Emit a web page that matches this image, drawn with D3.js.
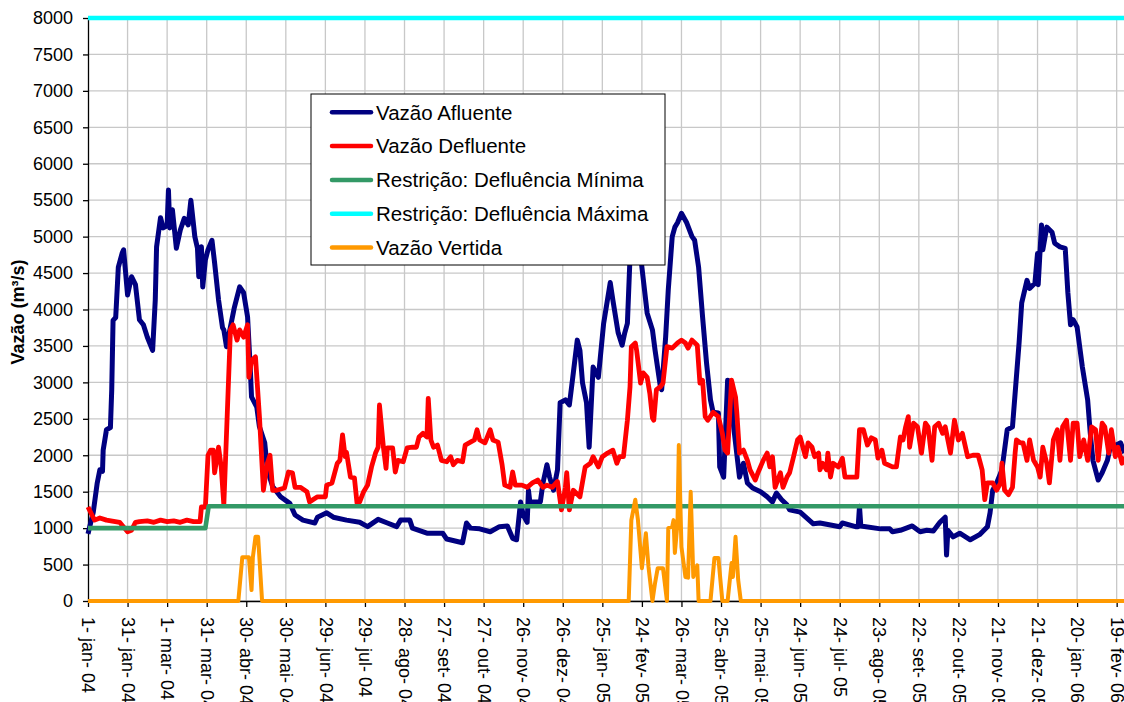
<!DOCTYPE html>
<html><head><meta charset="utf-8">
<script src="https://cdn.jsdelivr.net/npm/d3@7"></script>
<style>
body{margin:0;background:#fff;}
svg{display:block;font-family:Arial,"Liberation Sans",sans-serif;}
</style>
</head><body>
<svg id="chart" width="1124" height="702"></svg>
<script>
// ---------- DATA (day offset from 1-jan-2004, value in m3/s) ----------
const startDate = Date.UTC(2004, 0, 1);
const lastDay = 786;
const tickLabels = ["1- jan- 04","31- jan- 04","1- mar- 04","31- mar- 04","30- abr- 04","30- mai- 04","29- jun- 04","29- jul- 04","28- ago- 04","27- set- 04","27- out- 04","26- nov- 04","26- dez- 04","25- jan- 05","24- fev- 05","26- mar- 05","25- abr- 05","25- mai- 05","24- jun- 05","24- jul- 05","23- ago- 05","22- set- 05","22- out- 05","21- nov- 05","21- dez- 05","20- jan- 06","19- fev- 06"];
const tickDays = [0,30,60,90,120,150,180,210,240,270,300,330,360,390,420,450,480,510,540,570,600,630,660,690,720,750,780];
const yTicks = [0,500,1000,1500,2000,2500,3000,3500,4000,4500,5000,5500,6000,6500,7000,7500,8000];

const vazaoAfluente = [[0,920],[4,1220],[7,1620],[9,1800],[11,1780],[11.5,2070],[14,2350],[17,2380],[18,2900],[19,3850],[21,3890],[23,4580],[26,4780],[27,4820],[30,4200],[33,4450],[36,4340],[39,3860],[42,3790],[45,3620],[49,3440],[51,4130],[52,4860],[55,5260],[57,5120],[60,5150],[61,5640],[62,5120],[64,5370],[67,4840],[70,5090],[73,5250],[76,5160],[78,5500],[81,5000],[83,4840],[84,4450],[86,4860],[87,4310],[89,4680],[91,4820],[94,4950],[96,4640],[99,4130],[102,3750],[103,3720],[105,3490],[108,3760],[111,4030],[115,4310],[118,4230],[121,3900],[123,3210],[124,2800],[128,2660],[130,2390],[134,2170],[136,1800],[140,1570],[146,1430],[153,1340],[157,1180],[163,1110],[172,1070],[174,1150],[181,1210],[186,1150],[196,1110],[206,1080],[212,1020],[220,1120],[227,1070],[234,1020],[237,1110],[244,1110],[246,1000],[257,930],[269,930],[272,850],[284,800],[287,1070],[290,1000],[297,990],[305,950],[312,1020],[318,1030],[322,860],[325,840],[328,1360],[330,1180],[333,1080],[334,1520],[335,1360],[343,1360],[345,1620],[348,1870],[350,1700],[353,1520],[356,1800],[358,2720],[362,2760],[365,2690],[368,3130],[371,3580],[373,3440],[375,2990],[378,2720],[380,2110],[383,3210],[387,3070],[391,3810],[396,4370],[398,4130],[402,3680],[405,3510],[407,3680],[409,3810],[411,4720],[414,5400],[417,5100],[420,4580],[424,3950],[428,3720],[430,3440],[434,2940],[435,2900],[438,3620],[440,4270],[443,5000],[445,5130],[447,5190],[450,5320],[454,5190],[458,5000],[460,4950],[463,4580],[466,3900],[469,3270],[472,2760],[474,2590],[478,2580],[479,1840],[482,1700],[485,3030],[488,3000],[489,2480],[494,1700],[497,1890],[500,1620],[504,1550],[510,1500],[515,1430],[519,1360],[522,1480],[526,1390],[530,1320],[532,1250],[540,1220],[550,1060],[555,1070],[570,1020],[572,1070],[582,1020],[584,1020],[585,1300],[586,1030],[601,990],[608,990],[610,950],[616,970],[625,1030],[631,950],[636,970],[641,960],[646,1080],[650,1150],[651,630],[652,970],[656,880],[661,930],[669,840],[676,910],[682,1020],[684,1210],[686,1520],[689,1620],[693,1800],[697,2350],[701,2390],[706,3540],[708,4090],[712,4400],[714,4290],[718,4360],[720,4770],[720.5,4340],[723,5160],[724,4820],[727,5130],[731,5060],[733,4910],[737,4860],[741,4840],[743,4230],[745,3790],[747,3860],[750,3760],[754,3210],[758,2760],[760,2300],[762,1930],[766,1660],[769,1760],[773,1930],[775,2100],[783,2170],[786,2030]];

const vazaoDefluente = [[0,1290],[3,1180],[5,1110],[9,1140],[14,1110],[24,1080],[30,950],[33,970],[36,1080],[39,1090],[45,1100],[50,1080],[55,1110],[60,1090],[65,1100],[70,1080],[75,1110],[80,1090],[85,1090],[86,1290],[89,1290],[91,2000],[93,2070],[95,2070],[96,1760],[99,2110],[101,1840],[103,1320],[108,3720],[110,3790],[113,3580],[115,3720],[118,3620],[121,3790],[122,3070],[124,3300],[127,3350],[130,2530],[133,1520],[136,1890],[138,2000],[140,1520],[143,1520],[149,1550],[152,1770],[155,1760],[157,1560],[161,1560],[166,1500],[168,1360],[174,1430],[180,1430],[181,1590],[185,1620],[189,1890],[191,1930],[193,2280],[195,1980],[196,2040],[199,1700],[202,1690],[204,1340],[206,1360],[209,1500],[212,1590],[215,1840],[218,2030],[220,2110],[221,2690],[224,2110],[226,1820],[227,2100],[231,2100],[233,1770],[235,1930],[239,1910],[242,2100],[246,2110],[249,2110],[251,2250],[254,2300],[257,2250],[258,2780],[260,2210],[262,2110],[265,2140],[268,1930],[272,1910],[275,1980],[277,1870],[280,1930],[284,1910],[286,2140],[290,2180],[293,2210],[295,2350],[297,2210],[301,2170],[305,2350],[307,2210],[311,2180],[314,1870],[316,1590],[320,1560],[322,1770],[324,1590],[329,1590],[333,1560],[337,1620],[341,1660],[345,1560],[348,1590],[352,1560],[356,1640],[359,1250],[362,1560],[363,1760],[365,1250],[368,1520],[373,1430],[377,1840],[381,1890],[383,1980],[387,1840],[390,1980],[394,2030],[398,2070],[401,1890],[403,1980],[406,1980],[409,2480],[411,2940],[412,3490],[415,3540],[416,3440],[419,2990],[421,3130],[424,3070],[426,2850],[428,2510],[429,2480],[431,2900],[434,2940],[436,2990],[439,3490],[443,3470],[447,3540],[450,3580],[453,3540],[455,3470],[458,3580],[462,3510],[464,2990],[466,3030],[468,2530],[470,2480],[474,2590],[478,2530],[481,2300],[483,2070],[485,2030],[488,3030],[491,2800],[492,2580],[494,2030],[497,2070],[500,1930],[502,1800],[506,1660],[508,1760],[512,1930],[515,2030],[517,1840],[519,1980],[521,1560],[525,1760],[527,1560],[530,1700],[532,1760],[535,1980],[538,2210],[540,2250],[544,1980],[546,2170],[549,2110],[551,1980],[554,2030],[555,1800],[557,1890],[560,1800],[561,2030],[563,1700],[565,1890],[569,1840],[572,1960],[574,1700],[583,1700],[585,2350],[588,2350],[591,2140],[594,2240],[597,2210],[599,1960],[602,2070],[604,1890],[610,1840],[613,1840],[616,2250],[618,2210],[620,2390],[622,2530],[623,2110],[626,2440],[629,2390],[632,2030],[635,2440],[637,2390],[640,1930],[642,2390],[645,2440],[648,2300],[650,2390],[654,2030],[657,2480],[660,2210],[663,2300],[667,1980],[671,2000],[675,2000],[678,1800],[680,1390],[682,1620],[686,1620],[689,1520],[692,1620],[693,1890],[695,1520],[698,1460],[701,1560],[703,2030],[704,2210],[707,2170],[709,2170],[712,1930],[714,2210],[717,1930],[720,1840],[722,1700],[724,2110],[727,1890],[729,1620],[732,2210],[735,2350],[737,1930],[739,2390],[742,2480],[745,1930],[747,2440],[750,2440],[752,1980],[755,2210],[758,1930],[761,2390],[764,2350],[766,1930],[769,2440],[771,2390],[774,2030],[776,2350],[779,1980],[781,2110],[784,1890],[786,1980]];

const restricaoMinima = [[0,1000],[89,1000],[91.5,1300],[786,1300]];
const restricaoMaxima = [[0,8000],[786,8000]];

const vazaoVertida = [[0,0],[114,0],[117,600],[122,600],[124,150],[125,600],[127,880],[129,880],[132,0],[410,0],[412,1110],[415,1390],[417,1110],[420,450],[423,930],[425,470],[428,0],[430,250],[432,450],[436,450],[439,0],[440,1000],[443,1020],[444,1110],[445,660],[447,1070],[448,2140],[450,740],[453,330],[455,320],[457,1500],[459,330],[462,490],[463,0],[472,0],[475,590],[478,590],[481,0],[485,0],[488,520],[489,330],[491,880],[493,290],[495,0],[786,0]];

const seriesNames = ["Vazão Afluente","Vazão Defluente","Restrição: Defluência Mínima","Restrição: Defluência Máxima","Vazão Vertida"];
const seriesColors = ["#000080","#FF0000","#339966","#00FFFF","#FF9900"];
const seriesWidths = [5,4.8,4.6,4.5,4];
const seriesData = [vazaoAfluente, vazaoDefluente, restricaoMinima, restricaoMaxima, vazaoVertida];

// ---------- CHART ----------
const svg = d3.select("#chart");
const plotLeft = 88, plotTop = 18, plotBottom = 601, plotRight = 1124, pxPerDay = 1.3188;
const toDate = d => new Date(startDate + d * 864e5);

const x = d3.scaleUtc().domain([toDate(0), toDate(lastDay)]).range([plotLeft, plotLeft + lastDay * pxPerDay]);
const y = d3.scaleLinear().domain([0, 8000]).range([plotBottom, plotTop]);
const FONT = "Arial, 'Liberation Sans', sans-serif";

// grid
const grid = svg.append("g").attr("stroke", "#c8c8c8").attr("stroke-width", 1.3);
grid.selectAll("line.h").data(yTicks).join("line").attr("class", "h")
  .attr("x1", plotLeft).attr("x2", plotRight).attr("y1", d => y(d)).attr("y2", d => y(d));
grid.selectAll("line.v").data(tickDays.slice(1)).join("line").attr("class", "v")
  .attr("x1", d => x(toDate(d))).attr("x2", d => x(toDate(d))).attr("y1", plotTop).attr("y2", plotBottom);

// y axis
const yAxis = svg.append("g").attr("transform", `translate(${plotLeft},0)`)
  .call(d3.axisLeft(y).tickValues(yTicks).tickFormat(d3.format("d")).tickSize(5).tickPadding(10).tickSizeOuter(0));
yAxis.select(".domain").attr("stroke", "#000").attr("stroke-width", 1.3);
yAxis.selectAll(".tick line").attr("stroke", "#000").attr("stroke-width", 1.3);
yAxis.selectAll("text").attr("font-size", 18).attr("fill", "#000").attr("font-family", FONT);

// x axis
const xAxis = svg.append("g").attr("transform", `translate(0,${plotBottom})`)
  .call(d3.axisBottom(x).tickValues(tickDays.map(toDate)).tickSize(6).tickSizeOuter(0)
    .tickFormat((d, i) => tickLabels[i]));
xAxis.select(".domain").attr("stroke", "#000").attr("stroke-width", 1.3);
xAxis.selectAll(".tick line").attr("stroke", "#000").attr("stroke-width", 1.3);
xAxis.selectAll("text")
  .attr("font-size", 18).attr("fill", "#000").attr("font-family", FONT)
  .attr("text-anchor", "start").attr("dy", "0.35em")
  .attr("transform", "rotate(90)").attr("x", 16).attr("y", 0);

// series
const line = d3.line().x(d => x(toDate(d[0]))).y(d => y(d[1]));
const lineG = svg.append("g").attr("fill", "none").attr("stroke-linejoin", "round").attr("stroke-linecap", "butt");
seriesData.forEach((data, i) => {
  lineG.append("path").datum(data).attr("d", line)
    .attr("stroke", seriesColors[i]).attr("stroke-width", seriesWidths[i]);
});

// y title
svg.append("text").attr("transform", "translate(24,312) rotate(-90)")
  .attr("text-anchor", "middle").attr("font-size", 18).attr("font-weight", "bold").attr("font-family", FONT)
  .text("Vazão (m³/s)");

// legend
const lg = svg.append("g").attr("transform", "translate(311,94)");
lg.append("rect").attr("width", 354).attr("height", 171).attr("fill", "#fff").attr("stroke", "#000").attr("stroke-width", 1);
seriesNames.forEach((name, i) => {
  const yy = 18.3 + i * 33.8;
  lg.append("line").attr("x1", 21).attr("x2", 60).attr("y1", yy).attr("y2", yy)
    .attr("stroke", seriesColors[i]).attr("stroke-width", 4.5).attr("stroke-linecap", "round");
  lg.append("text").attr("x", 65).attr("y", yy).attr("dy", "0.36em").attr("font-size", 20.5).attr("fill", "#000")
    .attr("font-family", FONT).text(name);
});
</script>
</body></html>
